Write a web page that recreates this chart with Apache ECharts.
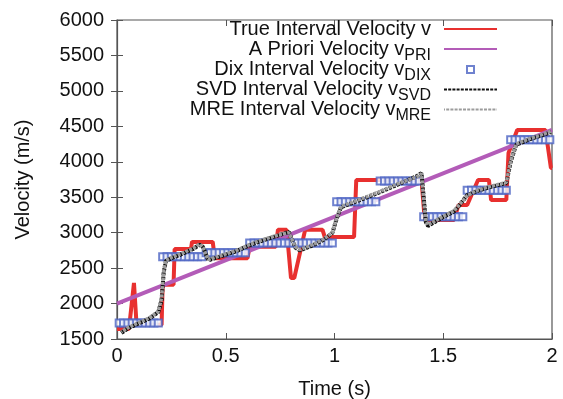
<!DOCTYPE html>
<html>
<head>
<meta charset="utf-8">
<script src="https://cdn.jsdelivr.net/npm/echarts@6/dist/echarts.min.js"></script>
<style>
  html, body { margin: 0; padding: 0; background: #ffffff; }
  #chart { width: 563px; height: 399px; }
</style>
</head>
<body>
<div id="chart"></div>
<script>
// ---- data ----
var xTicks = [0, 0.5, 1, 1.5, 2];
var yTicks = [1500, 2000, 2500, 3000, 3500, 4000, 4500, 5000, 5500, 6000];

var seriesNames = [
  'True Interval Velocity v',
  'A Priori Velocity v_PRI',
  'Dix Interval Velocity v_DIX',
  'SVD Interval Velocity v_SVD',
  'MRE Interval Velocity v_MRE'
];

// True interval velocity (step profile)
var trueT = [0, 0.055, 0.078, 0.09, 0.205, 0.21, 0.26, 0.265, 0.34, 0.345, 0.44, 0.45, 0.6, 0.61, 0.73, 0.74, 0.78, 0.80, 0.815, 0.865, 0.945, 0.955, 1.09, 1.10, 1.40, 1.415, 1.55, 1.57, 1.61, 1.66, 1.71, 1.72, 1.79, 1.80, 1.84, 1.97, 1.995, 2.0];
var trueV = [1640, 1640, 2290, 1700, 1700, 2265, 2265, 2770, 2770, 2870, 2870, 2640, 2640, 2800, 2800, 3040, 3040, 2360, 2360, 3040, 3040, 2940, 2940, 3743, 3743, 3180, 3180, 3390, 3390, 3743, 3743, 3461, 3461, 4124, 4449, 4449, 3913, 3913];

// A priori velocity (linear trend)
var priT = [0, 2];
var priV = [2000, 4450];

// Dix interval velocity (boxes)
var dixT = [
  0.01, 0.03, 0.05, 0.07, 0.09, 0.11, 0.13, 0.15, 0.17, 0.19,
  0.21, 0.23, 0.25, 0.27, 0.29, 0.31, 0.33, 0.35, 0.37, 0.39,
  0.41, 0.43, 0.45, 0.47, 0.49, 0.51, 0.53, 0.55, 0.57, 0.59,
  0.61, 0.63, 0.65, 0.67, 0.69, 0.71, 0.73, 0.75, 0.77, 0.79,
  0.81, 0.83, 0.85, 0.87, 0.89, 0.91, 0.93, 0.95, 0.97, 0.99,
  1.01, 1.03, 1.05, 1.07, 1.09, 1.11, 1.13, 1.15, 1.17, 1.19,
  1.21, 1.23, 1.25, 1.27, 1.29, 1.31, 1.33, 1.35, 1.37, 1.39,
  1.41, 1.43, 1.45, 1.47, 1.49, 1.51, 1.53, 1.55, 1.57, 1.59,
  1.61, 1.63, 1.65, 1.67, 1.69, 1.71, 1.73, 1.75, 1.77, 1.79,
  1.81, 1.83, 1.85, 1.87, 1.89, 1.91, 1.93, 1.95, 1.97, 1.99
];
var dixV = [
  1725, 1725, 1725, 1725, 1725, 1725, 1725, 1725, 1725, 1725,
  2660, 2660, 2660, 2660, 2660, 2660, 2660, 2660, 2660, 2660,
  2715, 2715, 2715, 2715, 2715, 2715, 2715, 2715, 2715, 2715,
  2855, 2855, 2855, 2855, 2855, 2855, 2855, 2855, 2855, 2855,
  2855, 2855, 2855, 2855, 2855, 2855, 2855, 2855, 2855, 2855,
  3435, 3435, 3435, 3435, 3435, 3435, 3435, 3435, 3435, 3435,
  3730, 3730, 3730, 3730, 3730, 3730, 3730, 3730, 3730, 3730,
  3225, 3225, 3225, 3225, 3225, 3225, 3225, 3225, 3225, 3225,
  3600, 3600, 3600, 3600, 3600, 3600, 3600, 3600, 3600, 3600,
  4310, 4310, 4310, 4310, 4310, 4310, 4310, 4310, 4310, 4310
];

// SVD interval velocity (smooth estimate)
var svdT = [0.02, 0.05, 0.1, 0.15, 0.19, 0.205, 0.215, 0.225, 0.25, 0.3, 0.35, 0.38, 0.395, 0.42, 0.45, 0.5, 0.55, 0.6, 0.65, 0.7, 0.75, 0.79, 0.82, 0.84, 0.9, 0.95, 0.99, 1.01, 1.03, 1.1, 1.2, 1.3, 1.38, 1.40, 1.41, 1.42, 1.43, 1.5, 1.55, 1.57, 1.61, 1.65, 1.7, 1.79, 1.81, 1.835, 1.9, 1.95, 1.995];
var svdV = [1585, 1650, 1720, 1790, 1880, 2050, 2450, 2600, 2640, 2700, 2770, 2830, 2800, 2610, 2640, 2690, 2740, 2810, 2870, 2920, 2970, 3010, 2790, 2750, 2820, 2900, 2995, 3200, 3360, 3440, 3560, 3690, 3800, 3840, 3500, 3150, 3095, 3220, 3300, 3370, 3530, 3580, 3630, 3700, 4000, 4240, 4320, 4370, 4420];

// MRE interval velocity (smooth estimate, nearly on top of SVD)
var mreT = [0.02, 0.05, 0.1, 0.15, 0.19, 0.205, 0.215, 0.225, 0.25, 0.3, 0.35, 0.38, 0.395, 0.42, 0.45, 0.5, 0.55, 0.6, 0.65, 0.7, 0.75, 0.79, 0.82, 0.84, 0.9, 0.95, 0.99, 1.01, 1.03, 1.1, 1.2, 1.3, 1.38, 1.40, 1.41, 1.42, 1.43, 1.5, 1.55, 1.57, 1.61, 1.65, 1.7, 1.79, 1.81, 1.835, 1.9, 1.95, 1.995];
var mreV = [1600, 1660, 1730, 1800, 1890, 2080, 2470, 2610, 2650, 2710, 2780, 2840, 2790, 2620, 2650, 2700, 2750, 2820, 2880, 2930, 2975, 3000, 2800, 2760, 2830, 2910, 3000, 3210, 3370, 3450, 3570, 3700, 3790, 3830, 3480, 3160, 3110, 3230, 3310, 3380, 3520, 3590, 3640, 3710, 4010, 4250, 4330, 4380, 4430];

// ---- build chart ----
function pairs(t, v) { var out = []; for (var i = 0; i < t.length; i++) out.push([t[i], v[i]]); return out; }

var FONT = 'Liberation Sans, Arial, sans-serif';
var chart = echarts.init(document.getElementById('chart'), null, { renderer: 'canvas' });

var legendTops = [19, 39, 59.5, 79.5, 99.5];

var rich = {
  m: { fontSize: 20, lineHeight: 29, fontFamily: FONT, color: '#111' },
  s: { fontSize: 16, lineHeight: 16, fontFamily: FONT, color: '#111', verticalAlign: 'bottom' },
  g: { fontSize: 20, lineHeight: 29, width: 8, fontFamily: FONT },
  gw: { fontSize: 20, lineHeight: 29, width: 31, fontFamily: FONT }
};

var legends = seriesNames.map(function (nm, i) {
  var isScatter = (i === 2);
  var gap = isScatter ? '{gw| }' : '{g| }';
  return {
    data: [isScatter ? { name: nm, icon: 'emptyRect' } : nm],
    orient: 'vertical',
    align: 'right',
    right: isScatter ? 88 : 65,
    top: legendTops[i],
    padding: 0,
    itemWidth: isScatter ? 7 : 53,
    itemHeight: isScatter ? 7 : 14,
    selectedMode: false,
    itemStyle: isScatter ? { borderWidth: 1 } : { opacity: 0 },
    formatter: function (name) {
      var parts = name.split('_');
      return parts.length > 1 ? '{m|' + parts[0] + '}{s|' + parts[1] + '}' + gap : '{m|' + parts[0] + '}' + gap;
    },
    textStyle: { rich: rich }
  };
});

var tickStyle = { show: true, inside: true, length: 6, lineStyle: { color: '#555', width: 1 } };

var option = {
  backgroundColor: '#ffffff',
  animation: false,
  grid: {
    left: 117, right: 11, top: 20, bottom: 60,
    show: true, borderColor: '#555', borderWidth: 1.2,
    outerBoundsMode: 'none'
  },
  legend: legends,
  xAxis: [{
    type: 'value', min: xTicks[0], max: xTicks[xTicks.length - 1], interval: 0.5,
    name: 'Time (s)', nameLocation: 'middle', nameGap: 40,
    nameTextStyle: { fontSize: 20, fontFamily: FONT, color: '#111' },
    axisLine: { show: true, lineStyle: { color: '#555', width: 1.2 } },
    axisTick: tickStyle,
    axisLabel: { fontSize: 20, fontFamily: FONT, color: '#111', margin: 7 },
    splitLine: { show: false }
  }, {
    type: 'value', position: 'top', min: xTicks[0], max: xTicks[xTicks.length - 1], interval: 0.5,
    axisLine: { show: false }, axisTick: tickStyle, axisLabel: { show: false }, splitLine: { show: false }
  }],
  yAxis: [{
    type: 'value', min: yTicks[0], max: yTicks[yTicks.length - 1], interval: 500,
    name: 'Velocity (m/s)', nameLocation: 'middle', nameGap: 84,
    nameTextStyle: { fontSize: 20, fontFamily: FONT, color: '#111' },
    axisLine: { show: true, lineStyle: { color: '#555', width: 1.2 } },
    axisTick: tickStyle,
    axisLabel: { fontSize: 20, fontFamily: FONT, color: '#111', margin: 13, formatter: function (v) { return String(v); } },
    splitLine: { show: false }
  }, {
    type: 'value', position: 'right', min: yTicks[0], max: yTicks[yTicks.length - 1], interval: 500,
    axisLine: { show: false }, axisTick: tickStyle, axisLabel: { show: false }, splitLine: { show: false }
  }],
  series: [
    {
      name: seriesNames[0], type: 'line', data: pairs(trueT, trueV),
      symbol: 'none', showSymbol: false,
      lineStyle: { color: '#e8302f', width: 4 }, itemStyle: { color: '#e8302f' }, z: 2
    },
    {
      name: seriesNames[1], type: 'line', data: pairs(priT, priV),
      symbol: 'none', showSymbol: false,
      lineStyle: { color: '#b35cb8', width: 4 }, itemStyle: { color: '#b35cb8' }, z: 3
    },
    {
      name: seriesNames[2], type: 'scatter', data: pairs(dixT, dixV),
      symbol: 'emptyRect', symbolSize: 7,
      itemStyle: { color: '#4b63c3', borderColor: '#4b63c3', borderWidth: 1 }, z: 4
    },
    {
      name: seriesNames[3], type: 'line', data: pairs(svdT, svdV),
      symbol: 'none', showSymbol: false,
      lineStyle: { color: '#111111', width: 4, type: [3, 1.2] }, itemStyle: { color: '#111111' }, z: 5
    },
    {
      name: seriesNames[4], type: 'line', data: pairs(mreT, mreV),
      symbol: 'none', showSymbol: false,
      lineStyle: { color: '#9c9c9c', width: 3.5, type: [3, 1.2], dashOffset: 2 }, itemStyle: { color: '#9c9c9c' }, z: 6
    }
  ]
};

chart.setOption(option);
</script>
</body>
</html>
